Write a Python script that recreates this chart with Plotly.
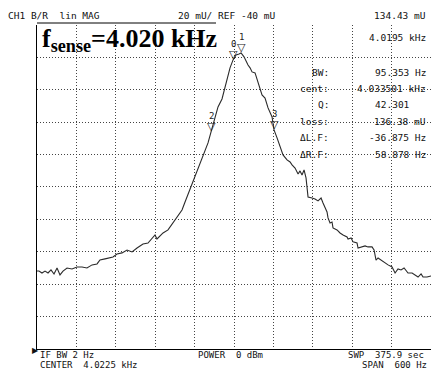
import plotly.graph_objects as go

# ---- data ----
freq_hz = [3722.5, 3725.5, 3730.1, 3734.7, 3739.3, 3743.8, 3748.4, 3753.0, 3757.5, 3762.1,
           3768.2, 3775.8, 3783.4, 3791.0, 3798.6, 3806.3, 3813.9, 3818.4, 3826.1, 3833.7,
           3838.2, 3844.3, 3851.9, 3859.6, 3867.2, 3874.8, 3883.9, 3891.5, 3899.1, 3902.2,
           3905.2, 3914.4, 3922.0, 3929.6, 3935.7, 3943.3, 3947.9, 3954.0, 3960.1, 3966.1,
           3972.2, 3978.3, 3982.9, 3987.5, 3992.0, 3998.1, 4004.2, 4008.8, 4013.4, 4016.4,
           4021.0, 4025.5, 4030.1, 4033.2, 4037.7, 4040.8, 4043.8, 4046.9, 4049.9, 4054.5,
           4059.0, 4065.1, 4069.7, 4074.3, 4080.4, 4083.4, 4088.0, 4092.5, 4097.1, 4103.2,
           4107.8, 4110.8, 4115.4, 4120.0, 4123.0, 4126.0, 4129.1, 4132.1, 4133.7, 4135.2,
           4141.3, 4145.8, 4150.4, 4155.0, 4158.0, 4164.1, 4165.6, 4168.7, 4171.7, 4173.2,
           4179.3, 4183.9, 4188.5, 4194.6, 4196.1, 4200.7, 4203.7, 4209.8, 4211.3, 4217.4,
           4222.0, 4226.5, 4232.6, 4235.7, 4238.7, 4241.8, 4247.9, 4252.4, 4257.0, 4263.1,
           4267.7, 4272.2, 4276.8, 4281.4, 4287.4, 4293.6, 4298.1, 4302.7, 4307.3, 4310.3,
           4316.4, 4322.5]
mag_mu = [8.1, 8.1, 6.9, 8.1, 6.9, 8.8, 6.3, 10.0, 5.7, 8.1,
          10.0, 9.4, 10.6, 10.6, 10.0, 11.9, 12.5, 14.9, 15.6, 16.2,
          16.8, 18.6, 19.3, 21.1, 19.9, 22.3, 24.8, 25.4, 29.1, 30.4,
          27.9, 31.6, 33.5, 37.8, 40.9, 45.8, 50.7, 56.9, 63.1, 69.3,
          75.4, 81.6, 87.2, 94.0, 100.7, 109.4, 114.3, 121.7, 130.4, 133.5,
          138.4, 141.5, 142.1, 142.7, 140.3, 137.2, 135.3, 133.5, 131.0, 130.4,
          124.2, 116.8, 114.9, 108.8, 103.2, 95.2, 90.3, 84.7, 79.8, 76.7,
          75.4, 73.6, 71.7, 68.0, 69.9, 67.4, 70.5, 65.6, 59.4, 53.8,
          53.2, 52.6, 51.4, 53.2, 50.1, 44.6, 40.9, 37.8, 38.4, 34.7,
          33.5, 31.6, 30.4, 29.1, 27.9, 28.5, 26.1, 25.4, 22.3, 23.0,
          23.6, 23.0, 23.0, 21.1, 14.9, 16.2, 14.3, 13.1, 11.9, 10.6,
          6.9, 9.4, 8.8, 10.0, 6.9, 6.9, 5.7, 4.4, 6.3, 4.4,
          4.4, 5.1]

marker_ids = ["0", "1", "2", "3"]
marker_freq = [4021.0, 4033.2, 3987.5, 4083.4]
marker_mag = [138.4, 142.7, 94.0, 95.2]

table_labels = ["BW:", "cent:", "Q:", "loss:", "ΔL.F:", "ΔR.F:"]
table_values = ["95.353 Hz", "4.033501 kHz", "42.301", "136.38 mU", "-36.875 Hz", "58.878 Hz"]

center_hz = 4022.5
span_hz = 600
ref_mu = -40
scale_mu = 20

W, H = 431, 370
L, R, T, B = 37, 0, 25, 21
PW, PH = W - L - R, H - T - B

def px(x):
    return (x - L) / PW

def py(y):
    return (H - B - y) / PH

MONO = "DejaVu Sans Mono"

fig = go.Figure()
fig.add_trace(go.Scatter(x=freq_hz, y=mag_mu, mode="lines",
                         line=dict(color="#2a2a2a", width=1.1), hoverinfo="skip"))

ann = []
# marker triangles and numbers
for mid, f, m in zip(marker_ids, marker_freq, marker_mag):
    ann.append(dict(x=f, y=m, xref="x", yref="y", text="▽", showarrow=False,
                    yanchor="bottom", xanchor="center", yshift=-3,
                    font=dict(family="DejaVu Sans", size=11, color="#222")))
    ann.append(dict(x=f, y=m, xref="x", yref="y", text=mid, showarrow=False,
                    yanchor="bottom", xanchor="center", yshift=9,
                    font=dict(family=MONO, size=9, color="#222")))

def txt(x, y, s, anchor="left", size=9.5, family=MONO):
    ann.append(dict(x=px(x), y=py(y), xref="paper", yref="paper", text=s,
                    showarrow=False, xanchor=anchor, yanchor="middle",
                    font=dict(family=family, size=size, color="#111")))

txt(6, 15, "CH1 B/R  lin MAG")
txt(176, 15, f"{scale_mu} mU/ REF {ref_mu} mU")
txt(428, 15, "134.43 mU", "right")
txt(428, 38, "4.0195 kHz", "right")

for i, (lab, val) in enumerate(zip(table_labels, table_values)):
    yy = 72 + 16.4 * i
    txt(331, yy, lab, "right")
    txt(412 if lab == "Q:" else 428, yy, val, "right")

txt(38, 355, "IF BW 2 Hz", size=9)
txt(38, 364.5, f"CENTER  {center_hz/1000:.4f} kHz", size=9)
txt(196, 355, "POWER  0 dBm", size=9)
txt(346, 355, "SWP  375.9 sec", size=9)
txt(429, 364.5, f"SPAN  {span_hz} Hz", "right", size=9)
txt(30, 350, "▶", "left", size=8, family="DejaVu Sans")

ann.append(dict(x=px(40), y=py(40), xref="paper", yref="paper",
                text="f<sub>sense</sub>=4.020 kHz", showarrow=False,
                xanchor="left", yanchor="middle",
                font=dict(family="Liberation Serif", size=26, color="#000", weight="bold")))

shapes = [dict(type="line", xref="paper", yref="paper", x0=0, x1=px(216),
               y0=py(23), y1=py(23), line=dict(color="#000", width=1))]

fig.update_layout(
    width=W, height=H, margin=dict(l=L, r=R, t=T, b=B),
    paper_bgcolor="white", plot_bgcolor="white", showlegend=False,
    annotations=ann, shapes=shapes,
    xaxis=dict(range=[center_hz - span_hz / 2, center_hz + span_hz / 2 - 0.1],
               tick0=center_hz - span_hz / 2, dtick=span_hz / 10,
               showgrid=True, gridcolor="#444", griddash="1px,2px", gridwidth=1,
               showticklabels=False, ticks="", zeroline=False,
               showline=True, linecolor="#000", linewidth=1),
    yaxis=dict(range=[ref_mu, ref_mu + 10 * scale_mu - 0.05], tick0=ref_mu, dtick=scale_mu,
               showgrid=True, gridcolor="#444", griddash="1px,2px", gridwidth=1,
               showticklabels=False, ticks="", zeroline=False,
               showline=True, linecolor="#000", linewidth=1),
)

fig.write_html("out.html", config={"displayModeBar": False},
               post_script="document.body.style.margin='0';document.body.style.overflow='hidden';")
